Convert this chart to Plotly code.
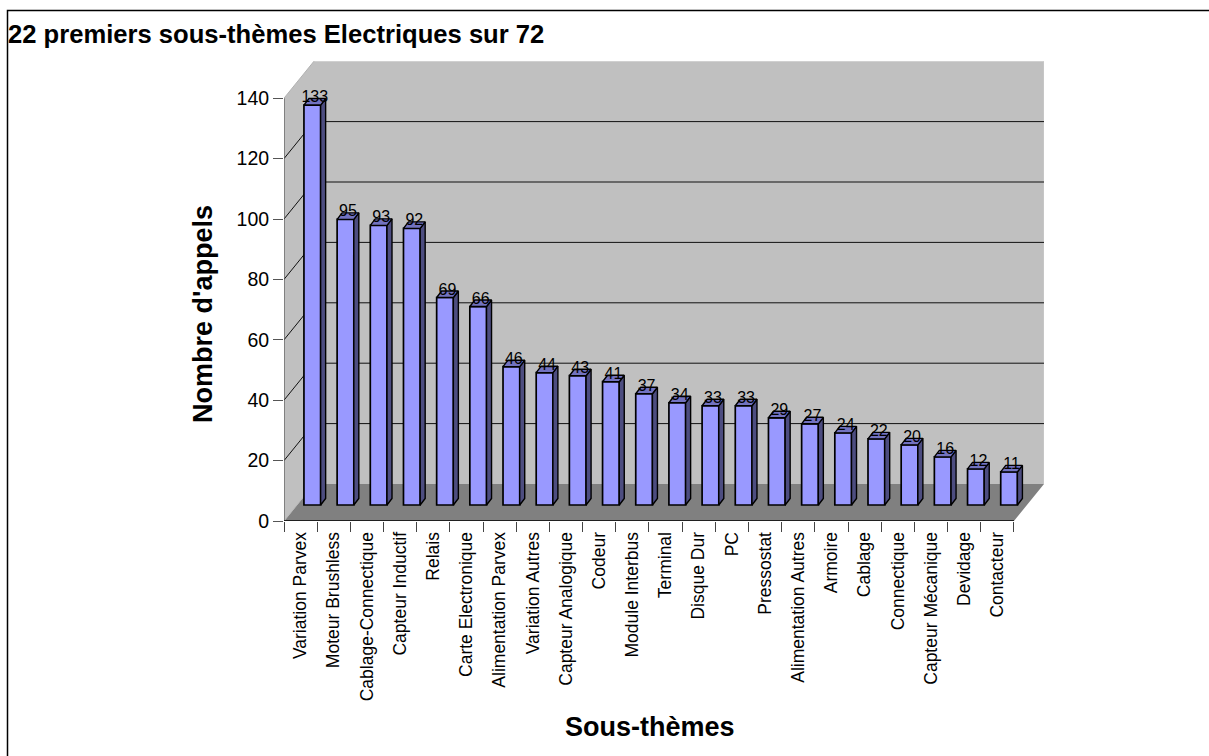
import plotly.graph_objects as go

categories = ["Variation Parvex", "Moteur Brushless", "Cablage-Connectique", "Capteur Inductif",
              "Relais", "Carte Electronique", "Alimentation Parvex", "Variation Autres",
              "Capteur Analogique", "Codeur", "Module Interbus", "Terminal", "Disque Dur", "PC",
              "Pressostat", "Alimentation Autres", "Armoire", "Cablage", "Connectique",
              "Capteur Mécanique", "Devidage", "Contacteur"]
appels = [133, 95, 93, 92, 69, 66, 46, 44, 43, 41, 37, 34, 33, 33, 29, 27, 24, 22, 20, 16, 12, 11]
y_ticks = [0, 20, 40, 60, 80, 100, 120, 140]

W, H = 1209, 756
LEFT, RIGHT, TOP, BOTTOM = 284.0, 1044.0, 60.5, 521.0   # plot area, pixels
STEP = 33.18       # pixels per category
YS = 3.02          # pixels per unit, axis plane
YS_BAR = 3.007     # pixels per unit, bar plane
BAR_BASE = 505.0   # pixel of bar foot
WALL_DX, WALL_DY = 30.0, 37.0
BAR_W = 16.7
BAR_OFF = 11.7
FACE_DX, FACE_DY = 5.0, 6.5


def ux(dp):
    return dp / STEP


def uy(dp):
    return dp / YS


x0 = -0.5
x_range = [x0, x0 + ux(RIGHT - LEFT)]
y_range = [0, uy(BOTTOM - TOP)]
y2_range = [-(BOTTOM - BAR_BASE) / YS_BAR, (BAR_BASE - TOP) / YS_BAR]
x_end = x0 + len(categories)
wx, wy = ux(WALL_DX), uy(WALL_DY)

shapes = []


def path(points, fill, line_color="rgba(0,0,0,0)", width=0):
    d = "M " + " L ".join(f"{a},{b}" for a, b in points) + " Z"
    shapes.append(dict(type="path", path=d, xref="x", yref="y", fillcolor=fill, layer="below",
                       line=dict(color=line_color, width=width)))


def seg(xa, ya, xb, yb, color, width=1):
    shapes.append(dict(type="line", xref="x", yref="y", x0=xa, y0=ya, x1=xb, y1=yb, layer="below",
                       line=dict(color=color, width=width)))


top = y_ticks[-1]
path([(x0 + wx, wy), (x0 + wx, top + wy), (x_range[1], top + wy), (x_range[1], wy)], "#c0c0c0")
path([(x0, 0), (x0, top), (x0 + wx, top + wy), (x0 + wx, wy)], "#c0c0c0")
path([(x0, 0), (x0 + wx, wy), (x_range[1], wy), (x_end, 0)], "#808080")
seg(x0, top, x0 + wx, top + wy, "#b0b0b0")
seg(x_range[1], wy, x_range[1], top + wy, "#cccccc")
for t in y_ticks[1:-1]:
    seg(x0 + wx, t + wy, x_range[1], t + wy, "#111111")
    seg(x0, t, x0 + wx, t + wy, "#111111")
seg(x0, 0, x0 + wx, wy, "#b8b8b8")
seg(x0, 0, x0, top, "#555555", 1.2)
seg(x0, 0, x_end, 0, "#000000", 1.5)

# page frame
shapes.append(dict(type="path", xref="paper", yref="paper", layer="above",
                   path=f"M {7.5/W},0 L {7.5/W},{1-10.5/H} L 1,{1-10.5/H}",
                   line=dict(color="#000000", width=1.5)))

idx = list(range(len(categories)))
bar_w = ux(BAR_W)
bar_off = ux(BAR_OFF) - bar_w / 2

traces = [go.Scatter(x=[x0, x_end], y=[0, 0], xaxis="x", yaxis="y", mode="markers",
                     marker=dict(opacity=0), hoverinfo="skip", showlegend=False)]

traces.append(go.Bar(x=idx, y=appels, base=0, width=bar_w, offset=bar_off, xaxis="x2", yaxis="y2",
                     marker=dict(color="#9999ff", line=dict(color="#000000", width=1.7)),
                     text=categories, textposition="none", hovertemplate="%{text}: %{y}<extra></extra>",
                     showlegend=False))

fdx, fdy = ux(FACE_DX), FACE_DY / YS_BAR
for i, v in zip(idx, appels):
    left = i + bar_off
    right = left + bar_w
    traces.append(go.Scatter(
        x=[right, right + fdx, right + fdx, right, right], y=[0, fdy, v + fdy, v, 0],
        xaxis="x2", yaxis="y2", mode="lines", fill="toself", fillcolor="#4d4d80",
        line=dict(color="#000000", width=1.4), hoverinfo="skip", showlegend=False))
    traces.append(go.Scatter(
        x=[left, left + fdx, right + fdx, right, left], y=[v, v + fdy, v + fdy, v, v],
        xaxis="x2", yaxis="y2", mode="lines", fill="toself", fillcolor="#7272c0",
        line=dict(color="#000000", width=1.4), hoverinfo="skip", showlegend=False))

traces.append(go.Scatter(
    x=[i + ux(BAR_OFF + 2.5) for i in idx], y=[v + 7 / YS_BAR for v in appels],
    xaxis="x2", yaxis="y2", mode="text", text=[str(v) for v in appels], textposition="middle center",
    textfont=dict(family="Liberation Sans", size=16, color="#000000"), hoverinfo="skip", showlegend=False))

fig = go.Figure(traces)
dom_x = [LEFT / W, RIGHT / W]
dom_y = [1 - BOTTOM / H, 1 - TOP / H]
font = "Liberation Sans"
fig.update_layout(
    template="none",
    width=W, height=H, autosize=False, margin=dict(l=0, r=0, t=0, b=0, pad=0),
    paper_bgcolor="#ffffff", plot_bgcolor="rgba(0,0,0,0)", showlegend=False,
    font=dict(family=font, color="#000000"), shapes=shapes,
    title=dict(text="<b>22 premiers sous-thèmes Electriques sur 72</b>", xref="paper", yref="paper",
               x=8 / W, y=1 - 34 / H, xanchor="left", yanchor="middle",
               font=dict(family=font, size=25.6, color="#000000")),
    xaxis=dict(domain=dom_x, range=x_range, type="linear", tickmode="array", automargin=False,
               tickvals=[x0 + k for k in range(len(categories) + 1)], showticklabels=False,
               ticks="outside", ticklen=10, tickcolor="#444444", tickwidth=1,
               showgrid=False, zeroline=False, showline=False, anchor="y"),
    yaxis=dict(domain=dom_y, range=y_range, tickmode="array", tickvals=y_ticks, automargin=False,
               ticks="outside", ticklen=10, tickcolor="#555555", tickwidth=1,
               tickfont=dict(family=font, size=19.5), showgrid=False, zeroline=False, showline=False,
               anchor="x"),
    xaxis2=dict(domain=dom_x, range=x_range, type="linear", overlaying="x", anchor="y", side="bottom",
                automargin=False, tickmode="array", tickvals=idx, ticktext=categories, tickangle=-90,
                ticks="outside", ticklen=3, tickcolor="rgba(0,0,0,0)",
                tickfont=dict(family=font, size=17.5),
                showgrid=False, zeroline=False, showline=False),
    yaxis2=dict(domain=dom_y, range=y2_range, overlaying="y", anchor="x2", visible=False,
                automargin=False, showgrid=False, zeroline=False),
    annotations=[
        dict(text="<b>Sous-thèmes</b>", xref="paper", yref="paper", x=650 / W, y=1 - 727 / H,
             xanchor="center", yanchor="middle", showarrow=False, font=dict(family=font, size=27)),
        dict(text="<b>Nombre d'appels</b>", xref="paper", yref="paper", x=203 / W, y=1 - 314 / H,
             xanchor="center", yanchor="middle", textangle=-90, showarrow=False,
             font=dict(family=font, size=27)),
    ],
)

fig.write_html("out.html", config=dict(displayModeBar=False),
               post_script="document.body.style.margin='0';document.body.style.overflow='hidden';")
